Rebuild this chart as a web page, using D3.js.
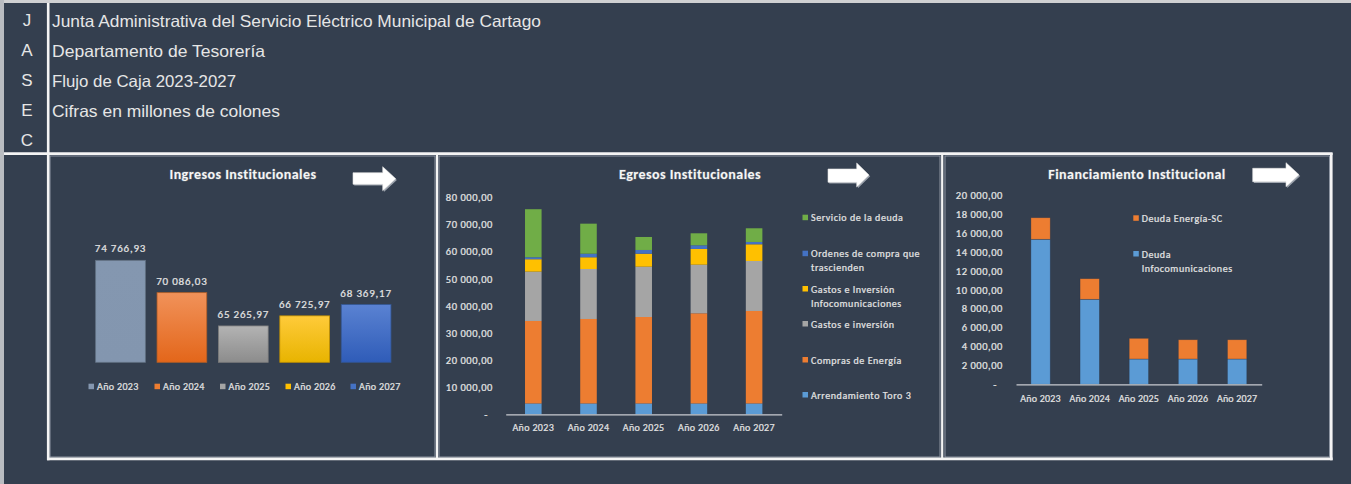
<!DOCTYPE html>
<html>
<head>
<meta charset="utf-8">
<script src="https://cdn.jsdelivr.net/npm/d3@7/dist/d3.min.js"></script>
<style>
  html, body { margin: 0; padding: 0; background: #343f4f; }
  svg { display: block; }
  .chart-text { font-family: Carlito, Lato, "Open Sans", sans-serif; letter-spacing: 0.55px; stroke: #e4e4e4; stroke-width: 0.22px; }
</style>
</head>
<body>
<svg id="board" width="1351" height="484"></svg>
<script>
// ---- Header block ----
const sideLetters = ["J", "A", "S", "E", "C"];
const headerLines = [
  "Junta Administrativa del Servicio Eléctrico Municipal de Cartago",
  "Departamento de Tesorería",
  "Flujo de Caja 2023-2027",
  "Cifras en millones de colones"
];
const headerWidths = [489, 213, 184, 228];

// ---- Ingresos Institucionales ----
const years = ["Año 2023", "Año 2024", "Año 2025", "Año 2026", "Año 2027"];
const ingresosValues = [74766.93, 70086.03, 65265.97, 66725.97, 68369.17];
const ingresosColors = ["#8497b0", "#ed7d31", "#a5a5a5", "#ffc000", "#4472c4"];
const ingresosGradTop = ["#8497b0", "#f1925a", "#b3b3b3", "#ffcb3a", "#5a82d2"];
const ingresosGradBottom = ["#8396af", "#e3661a", "#8c8c8c", "#e8b400", "#2f5cb8"];

// ---- Egresos Institucionales (stacked, bottom to top) ----
const egresosSeries = [
  "Arrendamiento Toro 3",
  "Compras de Energía",
  "Gastos e inversión",
  "Gastos e Inversión Infocomunicaciones",
  "Ordenes de compra que trascienden",
  "Servicio de la deuda"
];
const arrendamientoToro3 = [4000, 4000, 4000, 4000, 4000];
const comprasEnergia = [30400, 31140, 31870, 33240, 34090];
const gastosInversion = [18200, 18430, 18550, 17920, 18430];
const gastosInfocomunicaciones = [4570, 4320, 4790, 5790, 6160];
const ordenesCompra = [740, 1320, 1370, 1360, 850];
const servicioDeuda = [17700, 11070, 4790, 4420, 5050];
const egresosColors = ["#5b9bd5", "#ed7d31", "#a5a5a5", "#ffc000", "#4472c4", "#70ad47"];
const egresosTicks = [0, 10000, 20000, 30000, 40000, 50000, 60000, 70000, 80000];

// ---- Financiamiento Institucional (stacked, bottom to top) ----
const financiamientoSeries = ["Deuda Infocomunicaciones", "Deuda Energía-SC"];
const deudaInfocomunicaciones = [15320, 8980, 2670, 2670, 2670];
const deudaEnergiaSC = [2280, 2180, 2190, 2040, 2040];
const financiamientoColors = ["#5b9bd5", "#ed7d31"];
const financiamientoTicks = [0, 2000, 4000, 6000, 8000, 10000, 12000, 14000, 16000, 18000, 20000];

const locale = d3.formatLocale({ decimal: ",", thousands: " ", grouping: [3], currency: ["", ""] });
const fmt = locale.format(",.2f");
const accounting = v => v === 0 ? "-" : fmt(v);

const svg = d3.select("#board");
const defs = svg.append("defs");
const TXT = "#e4e4e4";

// ---- Frame and cell borders ----
svg.append("rect").attr("x", 0).attr("y", 0).attr("width", 1351).attr("height", 3).attr("fill", "#cfd0d2");
svg.append("rect").attr("x", 0).attr("y", 0).attr("width", 4).attr("height", 484).attr("fill", "#b9bcc1");

// chart-area outlines (thin gray)
[[50, 156, 435, 457], [439, 156, 940, 457], [945, 156, 1329.5, 457]].forEach(([x0, y0, x1, y1]) => {
  svg.append("rect").attr("x", x0).attr("y", y0).attr("width", x1 - x0).attr("height", y1 - y0)
    .attr("fill", "none").attr("stroke", "#8e96a3").attr("stroke-width", 1);
});

const white = "#f4f4f4";
function wline(x1, y1, x2, y2, w) {
  svg.append("line").attr("x1", x1).attr("y1", y1).attr("x2", x2).attr("y2", y2)
    .attr("stroke", white).attr("stroke-width", w);
}
wline(48.2, 3, 48.2, 460.3, 2.6);
wline(4, 153.6, 1332.6, 153.6, 2.6);
wline(437, 153, 437, 460, 2.2);
wline(942.2, 153, 942.2, 460, 2.2);
wline(1331.3, 153, 1331.3, 460.3, 2.6);
wline(47, 458.8, 1332.6, 458.8, 2.8);

// ---- Header text ----
svg.selectAll("text.side").data(sideLetters).join("text")
  .attr("class", "side")
  .attr("x", 27).attr("y", (d, i) => 26 + i * 30)
  .attr("text-anchor", "middle")
  .attr("font-family", "'Liberation Sans Narrow', 'Liberation Sans', Arial, sans-serif")
  .attr("font-size", 17).attr("fill", "#e6e6e6")
  .text(d => d);

svg.selectAll("text.head").data(headerLines).join("text")
  .attr("class", "head")
  .attr("x", 52).attr("y", (d, i) => 26.5 + i * 30)
  .attr("font-family", "'Liberation Sans', Arial, sans-serif")
  .attr("font-size", 16.5).attr("fill", "#e6e6e6")
  .attr("textLength", (d, i) => headerWidths[i])
  .attr("lengthAdjust", "spacingAndGlyphs")
  .text(d => d);

// ---- Shared helpers ----
function title(text, cx) {
  svg.append("text").attr("class", "chart-text")
    .attr("x", cx).attr("y", 178.5).attr("text-anchor", "middle")
    .attr("font-size", 14).attr("font-weight", 700).attr("fill", "#f6f6f6")
    .style("letter-spacing", "0.45px").style("stroke", "rgba(255,255,255,0.18)").style("stroke-width", "1.2px")
    .attr("paint-order", "stroke")
    .text(text);
}

function arrow(x0, x1, y0, y1, s0, s1, hx) {
  const pts = [[x0, s0], [hx, s0], [hx, y0], [x1, (y0 + y1) / 2], [hx, y1], [hx, s1], [x0, s1]];
  const line = d3.line();
  svg.append("path").attr("d", line(pts.map(p => [p[0] + 1.2, p[1] + 1.2])) + "Z").attr("fill", "#9aa1ab");
  svg.append("path").attr("d", line(pts) + "Z").attr("fill", "#ffffff").attr("stroke", "#e0e0e0").attr("stroke-width", 0.6);
}

// ---- Chart 1: Ingresos ----
title("Ingresos Institucionales", 243);
arrow(353, 395.7, 166.7, 190.7, 172.7, 184.3, 382.7);

const xIng = d3.scaleBand().domain(years).range([89.8, 396.8]).paddingInner(0.19).paddingOuter(0.095);
const yIng = d3.scaleLinear().domain([60000, 80000]).range([362.3, 224.2]);

years.forEach((y, i) => {
  const g = defs.append("linearGradient").attr("id", "ing" + i).attr("x1", 0).attr("y1", 0).attr("x2", 0).attr("y2", 1);
  g.append("stop").attr("offset", "0%").attr("stop-color", ingresosGradTop[i]);
  g.append("stop").attr("offset", "100%").attr("stop-color", ingresosGradBottom[i]);
});

const ingData = years.map((y, i) => ({ year: y, value: ingresosValues[i], i }));
svg.append("g").selectAll("rect").data(ingData).join("rect")
  .attr("x", d => xIng(d.year)).attr("width", xIng.bandwidth())
  .attr("y", d => yIng(d.value)).attr("height", d => yIng.range()[0] - yIng(d.value))
  .attr("fill", d => `url(#ing${d.i})`)
  .attr("stroke", d => d3.color(ingresosColors[d.i]).darker(0.8)).attr("stroke-width", 0.8);

svg.append("g").selectAll("text").data(ingData).join("text").attr("class", "chart-text")
  .attr("x", d => xIng(d.year) + xIng.bandwidth() / 2)
  .attr("y", d => yIng(d.value) - 8)
  .attr("text-anchor", "middle").attr("font-size", 11).attr("fill", TXT)
  .style("letter-spacing", "0.8px")
  .text(d => fmt(d.value));

const ingLegendX = [88.5, 154.5, 220, 285.5, 350.5];
const ingLeg = svg.append("g").selectAll("g").data(ingData).join("g")
  .attr("transform", (d, i) => `translate(${ingLegendX[i]},386.7)`);
ingLeg.append("rect").attr("x", 0).attr("y", -3).attr("width", 5.5).attr("height", 5.5)
  .attr("fill", d => ingresosColors[d.i]);
ingLeg.append("text").attr("class", "chart-text").attr("x", 8.5).attr("y", 3.6)
  .attr("font-size", 10).attr("fill", TXT).style("letter-spacing", "0.35px").text(d => d.year);

// ---- Chart 2: Egresos ----
title("Egresos Institucionales", 690);
arrow(828, 869, 163, 187, 169, 182.3, 856.7);

const egresosValues = [arrendamientoToro3, comprasEnergia, gastosInversion, gastosInfocomunicaciones, ordenesCompra, servicioDeuda];
const egRows = years.map((y, i) => {
  const r = { year: y };
  egresosSeries.forEach((s, k) => { r[s] = egresosValues[k][i]; });
  return r;
});
const egStack = d3.stack().keys(egresosSeries)(egRows);

const xEg = d3.scaleBand().domain(years).range([505.7, 781.7]).paddingInner(0.7).paddingOuter(0.35);
const yEg = d3.scaleLinear().domain([0, 80000]).range([414.3, 197.3]);

const yAxisEg = svg.append("g").attr("transform", "translate(493,0)")
  .call(d3.axisLeft(yEg).tickValues(egresosTicks).tickSize(0).tickPadding(0).tickFormat(accounting));
yAxisEg.select(".domain").remove();
yAxisEg.selectAll("text").attr("class", "chart-text").attr("font-family", null)
  .attr("font-size", 10.5).attr("fill", TXT)
  .attr("dx", d => d === 0 ? -5 : 0);

svg.append("g").selectAll("g").data(egStack).join("g")
  .attr("fill", (d, k) => egresosColors[k])
  .selectAll("rect").data(d => d).join("rect")
  .attr("x", d => xEg(d.data.year)).attr("width", xEg.bandwidth())
  .attr("y", d => yEg(d[1])).attr("height", d => yEg(d[0]) - yEg(d[1]));

const xAxisEg = svg.append("g").attr("transform", "translate(0,414.3)")
  .call(d3.axisBottom(xEg).tickSize(0).tickPadding(10));
xAxisEg.select(".domain").attr("stroke", "#c8cbd0").attr("stroke-width", 1.2);
xAxisEg.selectAll("text").attr("class", "chart-text").attr("font-family", null)
  .attr("font-size", 10).attr("fill", TXT).style("letter-spacing", "0.35px");

const egLegend = [
  { k: 5, lines: ["Servicio de la deuda"], y: 217.7 },
  { k: 4, lines: ["Ordenes de compra que", "trascienden"], y: 253.7 },
  { k: 3, lines: ["Gastos e Inversión", "Infocomunicaciones"], y: 289 },
  { k: 2, lines: ["Gastos e inversión"], y: 324 },
  { k: 1, lines: ["Compras de Energía"], y: 360 },
  { k: 0, lines: ["Arrendamiento Toro 3"], y: 395 }
];
const egLeg = svg.append("g").selectAll("g").data(egLegend).join("g")
  .attr("transform", d => `translate(802.5,${d.y})`);
egLeg.append("rect").attr("x", 0).attr("y", -3).attr("width", 5.5).attr("height", 5.5)
  .attr("fill", d => egresosColors[d.k]);
egLeg.append("text").attr("class", "chart-text").attr("font-size", 10).attr("fill", TXT)
  .selectAll("tspan").data(d => d.lines).join("tspan")
  .attr("x", 8.5).attr("y", (d, i) => 3.6 + i * 14).text(d => d);

// ---- Chart 3: Financiamiento ----
title("Financiamiento Institucional", 1137);
arrow(1252.7, 1299, 162.7, 186.7, 168.3, 181.7, 1286);

const finValues = [deudaInfocomunicaciones, deudaEnergiaSC];
const finRows = years.map((y, i) => {
  const r = { year: y };
  financiamientoSeries.forEach((s, k) => { r[s] = finValues[k][i]; });
  return r;
});
const finStack = d3.stack().keys(financiamientoSeries)(finRows);

const xFin = d3.scaleBand().domain(years).range([1016, 1261.7]).paddingInner(0.607).paddingOuter(0.3035);
const yFin = d3.scaleLinear().domain([0, 20000]).range([384.3, 195]);

const yAxisFin = svg.append("g").attr("transform", "translate(1003,0)")
  .call(d3.axisLeft(yFin).tickValues(financiamientoTicks).tickSize(0).tickPadding(0).tickFormat(accounting));
yAxisFin.select(".domain").remove();
yAxisFin.selectAll("text").attr("class", "chart-text").attr("font-family", null)
  .attr("font-size", 10.5).attr("fill", TXT)
  .attr("dx", d => d === 0 ? -6 : 0);

svg.append("g").selectAll("g").data(finStack).join("g")
  .attr("fill", (d, k) => financiamientoColors[k])
  .selectAll("rect").data(d => d).join("rect")
  .attr("x", d => xFin(d.data.year)).attr("width", xFin.bandwidth())
  .attr("y", d => yFin(d[1])).attr("height", d => yFin(d[0]) - yFin(d[1]))
  .attr("stroke", "rgba(40,50,70,0.45)").attr("stroke-width", 0.7);

const xAxisFin = svg.append("g").attr("transform", "translate(0,384.3)")
  .call(d3.axisBottom(xFin).tickSize(0).tickPadding(11));
xAxisFin.select(".domain").attr("stroke", "#c8cbd0").attr("stroke-width", 1.2);
xAxisFin.selectAll("text").attr("class", "chart-text").attr("font-family", null)
  .attr("font-size", 10).attr("fill", TXT).style("letter-spacing", "0.2px");

const finLegend = [
  { k: 1, lines: ["Deuda Energía-SC"], y: 218.3 },
  { k: 0, lines: ["Deuda", "Infocomunicaciones"], y: 254 }
];
const finLeg = svg.append("g").selectAll("g").data(finLegend).join("g")
  .attr("transform", d => `translate(1133.3,${d.y})`);
finLeg.append("rect").attr("x", 0).attr("y", -3).attr("width", 5.5).attr("height", 5.5)
  .attr("fill", d => financiamientoColors[d.k]);
finLeg.append("text").attr("class", "chart-text").attr("font-size", 10).attr("fill", TXT)
  .selectAll("tspan").data(d => d.lines).join("tspan")
  .attr("x", 8.5).attr("y", (d, i) => 3.6 + i * 14.3).text(d => d);
</script>
</body>
</html>
